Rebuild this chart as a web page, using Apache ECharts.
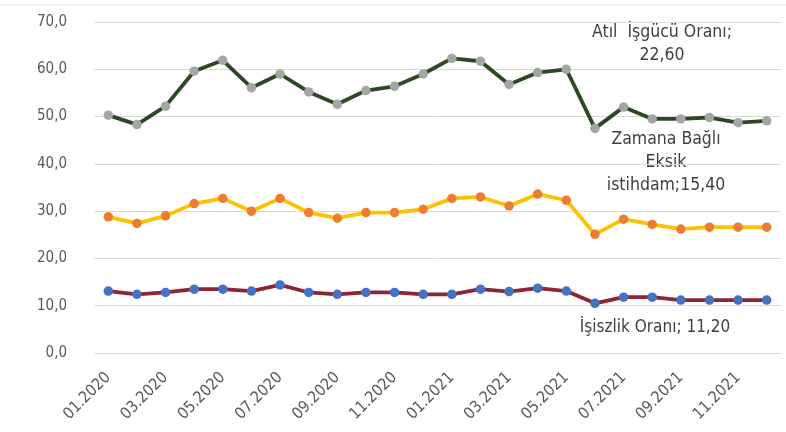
<!DOCTYPE html>
<html><head><meta charset="utf-8">
<script src="https://cdn.jsdelivr.net/npm/echarts@6/dist/echarts.min.js"></script>
<style>html,body{margin:0;padding:0;background:#fff}#c{width:786px;height:432px}</style>
</head><body><div id="c"></div>
<script>
const months = ['01.2020','02.2020','03.2020','04.2020','05.2020','06.2020','07.2020','08.2020','09.2020','10.2020','11.2020','12.2020',
  '01.2021','02.2021','03.2021','04.2021','05.2021','06.2021','07.2021','08.2021','09.2021','10.2021','11.2021','12.2021'];
const atil = [50.3,48.3,52.2,59.6,61.9,56.1,59.0,55.2,52.6,55.5,56.4,59.0,62.3,61.7,56.8,59.3,60.0,47.5,52.0,49.5,49.5,49.8,48.7,49.1];
const zamana = [28.8,27.4,29.0,31.6,32.7,30.0,32.7,29.7,28.5,29.7,29.7,30.4,32.7,33.0,31.1,33.6,32.3,25.1,28.3,27.2,26.2,26.6,26.6,26.6];
const issizlik = [13.1,12.4,12.8,13.5,13.5,13.1,14.4,12.8,12.4,12.8,12.8,12.4,12.4,13.5,13.0,13.7,13.1,10.5,11.8,11.8,11.2,11.2,11.2,11.2];
const yTicks = {min:0, max:70, interval:10};
const font = '"Liberation Sans Narrow", "DejaVu Sans Condensed", Lato, sans-serif';

const chart = echarts.init(document.getElementById('c'));
function mk(name, data, lineColor, dotColor){
  return {name, type:'line', data, symbol:'circle', symbolSize:9.5,
    lineStyle:{color:lineColor, width:3.8}, itemStyle:{color:dotColor},
    animation:false};
}
chart.setOption({
  animation:false,
  grid:{left:94, right:5, top:22, bottom:79},
  xAxis:{type:'category', data:months, boundaryGap:true,
    axisLine:{show:false}, axisTick:{show:false},
    axisLabel:{rotate:45, interval:1, color:'#595959', fontSize:16, fontFamily:font, margin:22}},
  yAxis:{type:'value', min:yTicks.min, max:yTicks.max, interval:yTicks.interval,
    axisLine:{show:false}, axisTick:{show:false},
    splitLine:{lineStyle:{color:'#d9d9d9', width:1}},
    axisLabel:{color:'#595959', fontSize:15, fontFamily:font, margin:27,
      formatter:v=>v.toFixed(1).replace('.',',')}},
  series:[
    mk('Atıl İşgücü Oranı', atil, '#2b4a23', '#a5a5a5'),
    mk('Zamana Bağlı Eksik istihdam', zamana, '#ffc000', '#ed7d31'),
    mk('İşsizlik Oranı', issizlik, '#8c2635', '#4472c4')
  ],
  graphic:[
    {type:'line', shape:{x1:0,y1:5,x2:786,y2:5}, style:{stroke:'#e6e6e6', lineWidth:1}},
    {type:'text', style:{text:'Atıl  İşgücü Oranı;\n22,60', x:662, y:21, align:'center', fill:'#404040', font:'17.5px '+font, lineHeight:23}},
    {type:'text', style:{text:'Zamana Bağlı\nEksik\nistihdam;15,40', x:666, y:128, align:'center', fill:'#404040', font:'17.5px '+font, lineHeight:23}},
    {type:'text', style:{text:'İşiszlik Oranı; 11,20', x:655, y:319, align:'center', fill:'#404040', font:'17px '+font}}
  ]
});
</script></body></html>
